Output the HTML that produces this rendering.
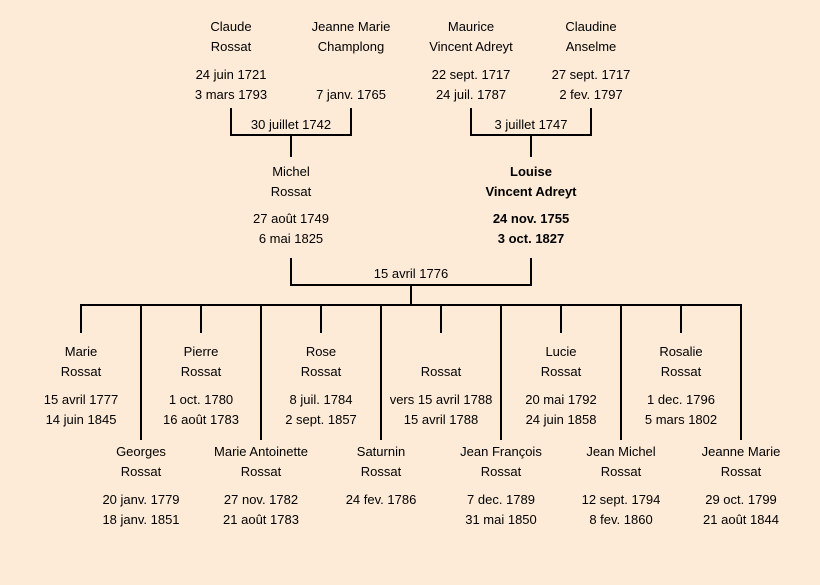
<!DOCTYPE html>
<html><head><meta charset="utf-8"><style>
body{margin:0;width:820px;height:585px;background:#fdebd8;position:relative;overflow:hidden;font-family:"Comic Sans MS","Liberation Sans",sans-serif;font-size:13px;color:#000}
.t{position:absolute;width:180px;margin-left:-90px;text-align:center;line-height:20px;white-space:nowrap}
.b{font-weight:bold}
.l{position:absolute;background:#000}
</style></head><body>
<!-- lines -->
<div class="l" style="left:230px;top:108px;width:2px;height:28px"></div>
<div class="l" style="left:350px;top:108px;width:2px;height:28px"></div>
<div class="l" style="left:230px;top:134px;width:122px;height:2px"></div>
<div class="l" style="left:290px;top:134px;width:2px;height:23px"></div>
<div class="l" style="left:470px;top:108px;width:2px;height:28px"></div>
<div class="l" style="left:590px;top:108px;width:2px;height:28px"></div>
<div class="l" style="left:470px;top:134px;width:122px;height:2px"></div>
<div class="l" style="left:530px;top:134px;width:2px;height:23px"></div>
<div class="l" style="left:290px;top:258px;width:2px;height:28px"></div>
<div class="l" style="left:530px;top:258px;width:2px;height:28px"></div>
<div class="l" style="left:290px;top:284px;width:242px;height:2px"></div>
<div class="l" style="left:410px;top:284px;width:2px;height:22px"></div>
<div class="l" style="left:80px;top:304px;width:662px;height:2px"></div>
<div class="l" style="left:80px;top:304px;width:2px;height:29px"></div>
<div class="l" style="left:200px;top:304px;width:2px;height:29px"></div>
<div class="l" style="left:320px;top:304px;width:2px;height:29px"></div>
<div class="l" style="left:440px;top:304px;width:2px;height:29px"></div>
<div class="l" style="left:560px;top:304px;width:2px;height:29px"></div>
<div class="l" style="left:680px;top:304px;width:2px;height:29px"></div>
<div class="l" style="left:140px;top:304px;width:2px;height:136px"></div>
<div class="l" style="left:260px;top:304px;width:2px;height:136px"></div>
<div class="l" style="left:380px;top:304px;width:2px;height:136px"></div>
<div class="l" style="left:500px;top:304px;width:2px;height:136px"></div>
<div class="l" style="left:620px;top:304px;width:2px;height:136px"></div>
<div class="l" style="left:740px;top:304px;width:2px;height:136px"></div>
<!-- top -->
<div class="t" style="left:231px;top:17px">Claude<br>Rossat</div>
<div class="t" style="left:231px;top:65px">24 juin 1721<br>3 mars 1793</div>
<div class="t" style="left:351px;top:17px">Jeanne Marie<br>Champlong</div>
<div class="t" style="left:351px;top:85px">7 janv. 1765</div>
<div class="t" style="left:471px;top:17px">Maurice<br>Vincent Adreyt</div>
<div class="t" style="left:471px;top:65px">22 sept. 1717<br>24 juil. 1787</div>
<div class="t" style="left:591px;top:17px">Claudine<br>Anselme</div>
<div class="t" style="left:591px;top:65px">27 sept. 1717<br>2 fev. 1797</div>
<div class="t" style="left:291px;top:115px">30 juillet 1742</div>
<div class="t" style="left:531px;top:115px">3 juillet 1747</div>
<div class="t" style="left:291px;top:162px">Michel<br>Rossat</div>
<div class="t" style="left:291px;top:209px">27 août 1749<br>6 mai 1825</div>
<div class="t b" style="left:531px;top:162px">Louise<br>Vincent Adreyt</div>
<div class="t b" style="left:531px;top:209px">24 nov. 1755<br>3 oct. 1827</div>
<div class="t" style="left:411px;top:264px">15 avril 1776</div>
<!-- upper children -->
<div class="t" style="left:81px;top:342px">Marie<br>Rossat</div>
<div class="t" style="left:81px;top:390px">15 avril 1777<br>14 juin 1845</div>
<div class="t" style="left:201px;top:342px">Pierre<br>Rossat</div>
<div class="t" style="left:201px;top:390px">1 oct. 1780<br>16 août 1783</div>
<div class="t" style="left:321px;top:342px">Rose<br>Rossat</div>
<div class="t" style="left:321px;top:390px">8 juil. 1784<br>2 sept. 1857</div>
<div class="t" style="left:441px;top:362px">Rossat</div>
<div class="t" style="left:441px;top:390px">vers 15 avril 1788<br>15 avril 1788</div>
<div class="t" style="left:561px;top:342px">Lucie<br>Rossat</div>
<div class="t" style="left:561px;top:390px">20 mai 1792<br>24 juin 1858</div>
<div class="t" style="left:681px;top:342px">Rosalie<br>Rossat</div>
<div class="t" style="left:681px;top:390px">1 dec. 1796<br>5 mars 1802</div>
<!-- lower children -->
<div class="t" style="left:141px;top:442px">Georges<br>Rossat</div>
<div class="t" style="left:141px;top:490px">20 janv. 1779<br>18 janv. 1851</div>
<div class="t" style="left:261px;top:442px">Marie Antoinette<br>Rossat</div>
<div class="t" style="left:261px;top:490px">27 nov. 1782<br>21 août 1783</div>
<div class="t" style="left:381px;top:442px">Saturnin<br>Rossat</div>
<div class="t" style="left:381px;top:490px">24 fev. 1786</div>
<div class="t" style="left:501px;top:442px">Jean François<br>Rossat</div>
<div class="t" style="left:501px;top:490px">7 dec. 1789<br>31 mai 1850</div>
<div class="t" style="left:621px;top:442px">Jean Michel<br>Rossat</div>
<div class="t" style="left:621px;top:490px">12 sept. 1794<br>8 fev. 1860</div>
<div class="t" style="left:741px;top:442px">Jeanne Marie<br>Rossat</div>
<div class="t" style="left:741px;top:490px">29 oct. 1799<br>21 août 1844</div>
</body></html>
